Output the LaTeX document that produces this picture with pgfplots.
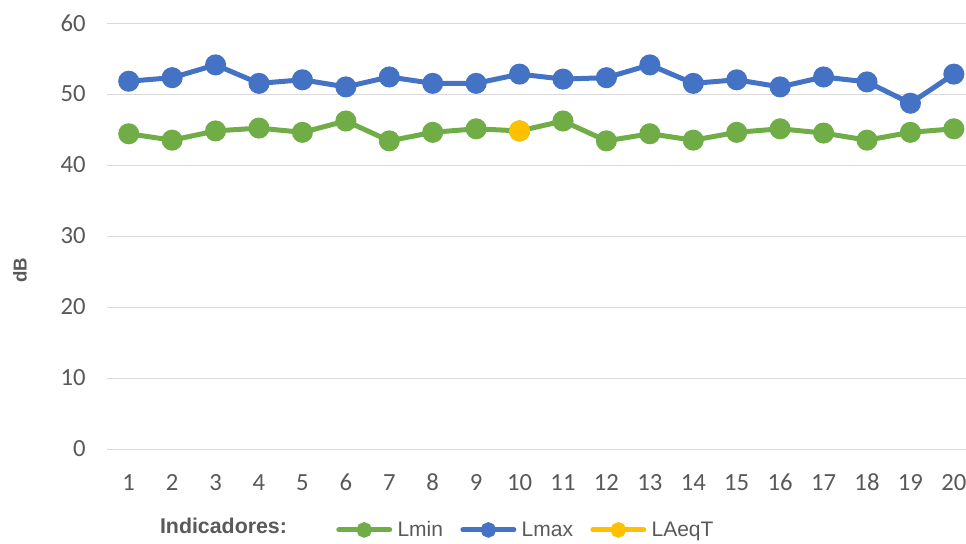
\documentclass[border=0pt]{standalone}
\usepackage{fontspec}
\setmainfont{Liberation Sans}
\newfontfamily\carlito{Carlito}
\usepackage{pgfplots}
\pgfplotsset{compat=1.18}
\definecolor{lgreen}{HTML}{70AD47}
\definecolor{lblue}{HTML}{4472C4}
\definecolor{lyellow}{HTML}{FFC000}
\definecolor{gridgray}{HTML}{D9D9D9}
\definecolor{tickgray}{HTML}{595959}
\begin{document}
\begin{tikzpicture}
\path[use as bounding box] (-80.25pt,-70.5pt) rectangle (644.25pt,336.75pt);
\begin{axis}[
  at={(0pt,0pt)}, anchor=south west,
  scale only axis, width=644.25pt, height=319.5pt,
  xmin=0.5, xmax=20.28, ymin=0, ymax=60,
  xtick={1,...,20}, ytick={0,10,...,60},
  ymajorgrids, grid style={color=gridgray, line width=0.75pt},
  axis line style={draw=none},
  major tick length=0pt,
  /pgf/number format/assume math mode=true,
  tick label style={font=\carlito\fontsize{18.5}{20}\selectfont, text=tickgray},
  xticklabel style={inner sep=0pt, anchor=base, yshift=-31pt},
  yticklabel style={inner sep=0pt, xshift=-15.75pt},
  clip=false,
  legend columns=-1,
  legend style={at={(axis description cs:0.2666,-0.190)}, anchor=west,
    draw=none, fill=none, inner sep=0pt,
    font=\fontsize{15.75}{18}\selectfont, text=tickgray,
    nodes={inner sep=0pt},
    /tikz/every odd column/.append style={column sep=4pt},
    /tikz/every even column/.append style={column sep=13pt}},
  legend image code/.code={
    \draw[mark=none, line width=3.75pt, line cap=round] (1.9pt,0pt) -- (40.1pt,0pt);
    \fill (21pt,0pt) circle (3.9pt);},
]
\addplot[color=lgreen, line width=3.75pt, mark=*, mark size=6pt] coordinates {
(1,44.4) (2,43.5) (3,44.8) (4,45.2) (5,44.6) (6,46.2) (7,43.4) (8,44.6) (9,45.1) (10,44.8)
(11,46.2) (12,43.4) (13,44.4) (14,43.5) (15,44.6) (16,45.1) (17,44.5) (18,43.5) (19,44.6) (20,45.1)};
\addlegendentry{Lmin}
\addplot[color=lblue, line width=3.75pt, mark=*, mark size=6pt] coordinates {
(1,51.8) (2,52.3) (3,54.1) (4,51.5) (5,52.0) (6,51.0) (7,52.4) (8,51.5) (9,51.5) (10,52.8)
(11,52.1) (12,52.3) (13,54.1) (14,51.5) (15,52.0) (16,51.0) (17,52.4) (18,51.7) (19,48.7) (20,52.8)};
\addlegendentry{Lmax}
\addplot[color=lyellow, line width=3.75pt, mark=*, mark size=6pt] coordinates {(10,44.8)};
\addlegendentry{LAeqT}
\node[rotate=90, font=\bfseries\fontsize{14}{16}\selectfont, text=tickgray] at (axis description cs:-0.1013,0.42) {dB};
\node[font=\bfseries\fontsize{16}{18}\selectfont, text=tickgray] at (axis description cs:0.1356,-0.181) {Indicadores:};
\end{axis}
\end{tikzpicture}
\end{document}
